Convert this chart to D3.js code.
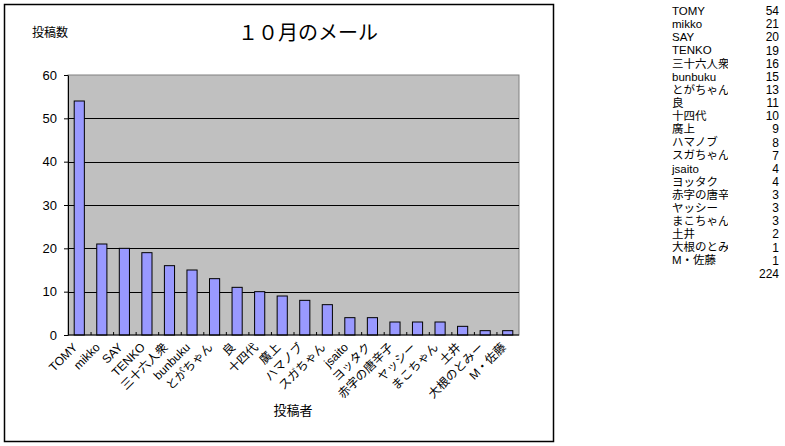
<!DOCTYPE html>
<html>
<head>
<meta charset="utf-8">
<script src="https://cdn.jsdelivr.net/npm/d3@7"></script>
<style>
    body { margin: 0; background: #fff; }
    text { font-family: "Liberation Sans", "Noto Sans CJK JP", sans-serif; }
</style>
</head>
<body>
<script>
var names = ["TOMY", "mikko", "SAY", "TENKO", "三十六人衆", "bunbuku", "とがちゃん", "良", "十四代", "廣上",
    "ハマノブ", "スガちゃん", "jsaito", "ヨッタク", "赤字の唐辛子", "ヤッシー", "まこちゃん", "土井", "大根のとみー", "M・佐藤"];
var posts = [54, 21, 20, 19, 16, 15, 13, 11, 10, 9, 8, 7, 4, 4, 3, 3, 3, 2, 1, 1];
var yTicks = [0, 10, 20, 30, 40, 50, 60];
var total = 224;

var style = {
    left: 68, top: 75, right: 519, bottom: 335,
    barColor: "#9999ff",
    plotColor: "#c0c0c0"
};

var svg = d3.select("body").append("svg")
    .attr("width", 785)
    .attr("height", 446);

// chart frame
svg.append("rect")
    .attr("x", 4.5).attr("y", 4.5)
    .attr("width", 549).attr("height", 437)
    .attr("fill", "none")
    .attr("stroke", "#000")
    .attr("stroke-width", 1.5);

var x = d3.scaleBand()
    .domain(names)
    .range([style.left, style.right]);

var y = d3.scaleLinear()
    .domain([0, 60])
    .range([style.bottom, style.top]);

var barWidth = x.bandwidth() * 0.45;

svg.append("rect")
    .attr("x", style.left).attr("y", style.top)
    .attr("width", style.right - style.left)
    .attr("height", style.bottom - style.top)
    .attr("fill", style.plotColor)
    .attr("stroke", "#808080");

// gridlines
svg.append("g")
    .selectAll("line")
    .data(yTicks.slice(1, -1))
    .enter().append("line")
    .attr("x1", style.left).attr("x2", style.right)
    .attr("y1", function(d) { return Math.round(y(d)) + 0.5; })
    .attr("y2", function(d) { return Math.round(y(d)) + 0.5; })
    .attr("stroke", "#000");

svg.append("g")
    .selectAll("rect")
    .data(posts)
    .enter().append("rect")
    .attr("x", function(d, i) { return x(names[i]) + (x.bandwidth() - barWidth) / 2; })
    .attr("y", function(d) { return y(d); })
    .attr("width", barWidth)
    .attr("height", function(d) { return y(0) - y(d); })
    .attr("fill", style.barColor)
    .attr("stroke", "#000");

// y axis
var yAxis = svg.append("g")
    .attr("transform", "translate(" + style.left + ",0)")
    .call(d3.axisLeft(y).tickValues(yTicks).tickSize(4).tickSizeOuter(0).tickPadding(7));
yAxis.select(".domain").attr("stroke", "#000");
yAxis.selectAll("text")
    .style("font-size", "13px")
    .attr("fill", "#000");

// x axis, ticks between bars
var xAxis = svg.append("g")
    .attr("transform", "translate(0," + style.bottom + ")");
xAxis.append("line")
    .attr("x1", style.left).attr("x2", style.right)
    .attr("stroke", "#000");
xAxis.selectAll(".tk")
    .data(names.slice(1))
    .enter().append("line")
    .attr("class", "tk")
    .attr("x1", function(d) { return x(d) + 0.5; })
    .attr("x2", function(d) { return x(d) + 0.5; })
    .attr("y1", 0).attr("y2", -3)
    .attr("stroke", "#000");

xAxis.selectAll(".lbl")
    .data(names)
    .enter().append("text")
    .attr("class", "lbl")
    .attr("text-anchor", "end")
    .attr("transform", function(d) {
        return "translate(" + (x(d) + x.bandwidth() / 2 - 4) + ",10) rotate(-45)";
    })
    .attr("dy", "0.35em")
    .style("font-size", "12px")
    .text(function(d) { return d; });

svg.append("text")
    .attr("x", 308).attr("y", 40)
    .attr("text-anchor", "middle")
    .style("font-size", "20px")
    .text("１０月のメール");

svg.append("text")
    .attr("x", 32).attr("y", 37)
    .style("font-size", "12px")
    .text("投稿数");

svg.append("text")
    .attr("x", 293).attr("y", 415)
    .attr("text-anchor", "middle")
    .style("font-size", "13px")
    .text("投稿者");

// table at right
svg.append("clipPath")
    .attr("id", "nameClip")
    .append("rect")
    .attr("x", 670).attr("y", 0)
    .attr("width", 58).attr("height", 446);

var rowY = function(i) { return 11 + i * 13.13; };

var rows = svg.append("g");
rows.selectAll(".nm")
    .data(names)
    .enter().append("text")
    .attr("class", "nm")
    .attr("clip-path", "url(#nameClip)")
    .attr("x", 672)
    .attr("y", function(d, i) { return rowY(i); })
    .attr("dy", "0.35em")
    .style("font-size", "11.5px")
    .text(function(d) { return d; });

rows.selectAll(".val")
    .data(posts.concat([total]))
    .enter().append("text")
    .attr("class", "val")
    .attr("x", 779)
    .attr("y", function(d, i) { return rowY(i); })
    .attr("dy", "0.35em")
    .attr("text-anchor", "end")
    .style("font-size", "12px")
    .text(function(d) { return d; });
</script>
</body>
</html>
